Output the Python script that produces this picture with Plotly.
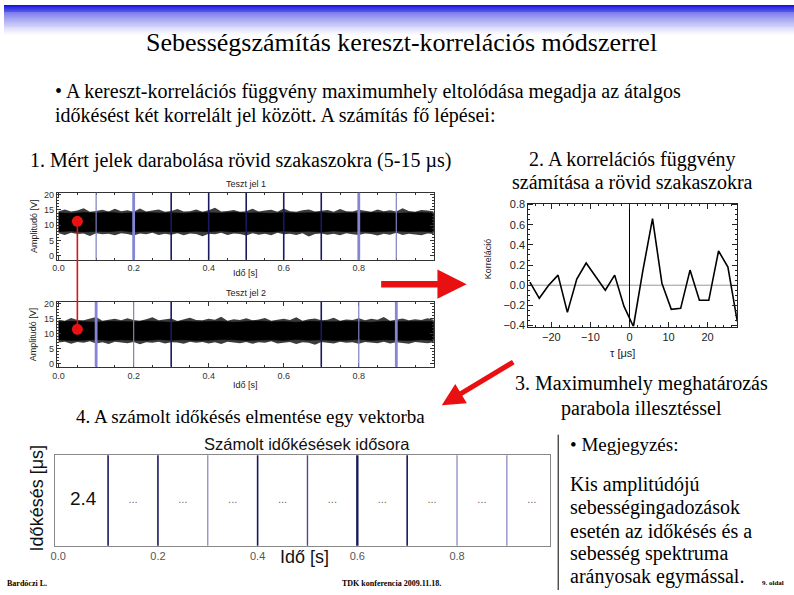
import numpy as np
import plotly.graph_objects as go

W, H = 794, 595
def px(x): return x / W
def py(y): return 1 - y / H

# ---------------- data ----------------
# Test signal envelopes (sampled across 0..1 s): spike envelope and dense core
sig1_outer_up = [14.6,15.2,14.5,14.8,15.6,14.4,14.7,15.1,14.5,15.4,14.6,14.9,14.4,15.5,14.5,14.8,15.2,14.4,14.7,15.3,14.5,14.6,15.2,14.4,14.9,15.7,14.5,14.7,15.0,14.4,14.6,15.4,14.5,14.8,15.1,14.4,15.5,14.6,14.4,14.9,15.2,14.5,14.7,15.0,14.4,15.3,14.6,14.5,15.1,14.8,14.4,15.2,14.6,14.9,14.5,15.6,14.7,14.4,15.0,14.8,14.5]
sig1_outer_lo = [7.4,6.8,7.5,7.1,7.3,6.5,7.4,7.0,7.2,6.7,7.4,7.1,6.6,7.3,7.0,7.5,6.8,7.2,6.9,7.4,6.7,7.3,7.1,6.4,7.2,7.0,7.5,6.8,7.3,7.1,6.6,7.4,6.9,7.2,6.7,7.5,7.0,7.2,6.8,7.4,6.3,7.1,7.3,6.9,7.2,6.7,7.4,7.0,6.8,7.3,7.1,6.6,7.2,6.9,7.5,6.8,7.2,7.0,6.7,7.3,7.1]
sig1_core_up = [14.1,13.9,14.2,14.0,14.3,13.9,14.1,14.2,14.0,14.1,13.9,14.2,14.1,14.0,14.3,14.0,14.1,13.9,14.2,14.0,14.1,14.2,13.9,14.1,14.0,14.2,14.1,13.9,14.1,14.2,14.0]
sig1_core_lo = [7.9,8.1,7.8,8.0,7.9,8.2,7.8,8.0,8.1,7.9,7.8,8.0,7.9,8.1,7.8,8.0,7.9,7.8,8.1,7.9,8.0,7.8,8.1,7.9,8.0,7.8,7.9,8.1,7.9,8.0,7.8]

sig2_outer_up = [14.7,14.4,15.3,14.6,14.5,15.1,15.6,14.4,14.8,15.0,14.5,15.2,14.6,14.4,14.9,15.5,14.5,14.7,15.1,14.3,14.8,15.4,14.6,14.5,15.0,14.7,15.7,14.4,14.9,14.6,15.2,14.5,14.8,15.3,14.4,14.7,15.0,14.6,15.5,14.4,14.9,15.1,14.5,14.7,15.4,14.4,14.8,14.6,15.2,14.5,15.0,14.7,15.6,14.4,14.8,15.1,14.5,14.9,14.6,15.2,14.7]
sig2_outer_lo = [7.1,7.4,6.7,7.3,7.0,7.5,6.8,7.2,6.6,7.4,7.1,6.9,7.3,6.5,7.2,7.0,7.4,6.8,7.2,7.1,6.7,7.4,7.0,7.3,6.8,7.2,6.6,7.4,7.1,6.9,7.3,6.7,7.2,7.0,7.5,6.8,7.1,7.3,6.6,7.2,7.0,6.4,7.3,7.1,6.8,7.4,7.0,7.2,6.7,7.3,7.1,6.9,7.4,6.8,7.2,7.0,6.7,7.3,7.1,6.9,7.2]
sig2_core_up = [14.0,14.2,14.1,13.9,14.2,14.1,14.0,14.3,14.1,13.9,14.2,14.0,14.1,14.2,13.9,14.1,14.3,14.0,14.1,13.9,14.2,14.1,14.0,14.2,14.1,13.9,14.2,14.0,14.1,14.2,14.1]
sig2_core_lo = [8.0,7.8,7.9,8.1,7.8,8.0,7.9,7.8,8.1,7.9,8.0,7.8,7.9,8.1,8.0,7.8,7.9,8.0,7.8,8.1,7.9,8.0,7.8,7.9,8.1,7.8,8.0,7.9,7.8,8.0,7.9]

# Sample markers (same instant in both signals)
marker_t = [0.05]
marker_amp1 = [11.3]
marker_amp2 = [11.5]

# Segment boundaries drawn on the signals [s]
seg1_t = [0.1, 0.2, 0.3, 0.4, 0.5, 0.6, 0.7, 0.8, 0.9]
seg1_style = ['lt', 'lT', 'd', 'd', 'd', 'd', 'd', 'lT', 'lt']
seg2_t = [0.1, 0.2, 0.3, 0.7, 0.8, 0.9]
seg2_style = ['lT', 'lt', 'd', 'd', 'lt', 'lT']
seg4_t = [0.1, 0.2, 0.3, 0.4, 0.5, 0.6, 0.7, 0.8, 0.9]
seg4_style = ['d', 'd', 'lt', 'd', 'm', 'D', 'd', 'lt', 'lt']

# Cross-correlation function
tau_us = [-25.5, -23.1, -20.7, -18.3, -15.9, -13.5, -11.1, -8.6, -6.2, -3.8, -1.4, 1.0,
          3.4, 5.9, 8.3, 10.7, 13.1, 15.5, 17.9, 20.3, 22.8, 25.2, 27.6]
corr = [0.03, -0.13, 0.00, 0.10, -0.27, 0.06, 0.22, 0.08, -0.05, 0.10, -0.21, -0.41,
        0.14, 0.66, 0.02, -0.24, -0.23, 0.15, -0.15, -0.15, 0.34, 0.18, -0.36]

# Computed time delays per segment
cell_t = [0.05, 0.15, 0.25, 0.35, 0.45, 0.55, 0.65, 0.75, 0.85, 0.95]
cell_text = ['2.4', '...', '...', '...', '...', '...', '...', '...', '...', '...']

x_ticks = [0.0, 0.2, 0.4, 0.6, 0.8]
x_ticktext = ['0.0', '0.2', '0.4', '0.6', '0.8']

# ---------------- figure ----------------
fig = go.Figure()
SANS = 'Liberation Sans, Arial, sans-serif'
SERIF = 'Liberation Serif, Times New Roman, serif'

t61 = np.linspace(0, 1, len(sig1_outer_up))
t31 = np.linspace(0, 1, len(sig1_core_up))

def band(t, up, lo, color, xa, ya, lw):
    fig.add_trace(go.Scatter(x=list(t) + list(t[::-1]), y=list(up) + list(lo[::-1]),
                             fill='toself', fillcolor=color, mode='lines',
                             line=dict(color=color, width=lw),
                             xaxis=xa, yaxis=ya, hoverinfo='skip', showlegend=False))

band(t61, sig1_outer_up, sig1_outer_lo, '#3c3c3c', 'x', 'y', 0)
band(t31, sig1_core_up, sig1_core_lo, '#000000', 'x', 'y', 0.5)
band(t61, sig2_outer_up, sig2_outer_lo, '#3c3c3c', 'x2', 'y2', 0)
band(t31, sig2_core_up, sig2_core_lo, '#000000', 'x2', 'y2', 0.5)

fig.add_trace(go.Scatter(x=marker_t, y=marker_amp1, mode='markers',
                         marker=dict(color='#ee1111', size=11), xaxis='x', yaxis='y', showlegend=False))
fig.add_trace(go.Scatter(x=marker_t, y=marker_amp2, mode='markers',
                         marker=dict(color='#ee1111', size=11), xaxis='x2', yaxis='y2', showlegend=False))

fig.add_trace(go.Scatter(x=tau_us, y=corr, mode='lines', line=dict(color='black', width=1.6),
                         xaxis='x3', yaxis='y3', showlegend=False, cliponaxis=True))

fig.add_trace(go.Scatter(x=cell_t[:1], y=[0.5], mode='text', text=cell_text[:1],
                         textfont=dict(family=SANS, size=19, color='#111'),
                         xaxis='x4', yaxis='y4', showlegend=False))
fig.add_trace(go.Scatter(x=cell_t[1:], y=[0.5] * 9, mode='text', text=cell_text[1:],
                         textfont=dict(family=SANS, size=11, color='#666'),
                         xaxis='x4', yaxis='y4', showlegend=False))

shapes = []
# top blue gradient
for i in range(30):
    f = i / 30
    r = int(20 + 235 * f ** 0.8)
    g = int(20 + 235 * f ** 0.8)
    b = int(225 + 30 * f)
    shapes.append(dict(type='rect', xref='paper', yref='paper', x0=0, x1=1,
                       y0=py(i + 1), y1=py(i), fillcolor=f'rgb({r},{g},{min(b,255)})',
                       line=dict(width=0), layer='below'))

style_map = {'d': ('#191960', 1.6), 'D': ('#191960', 2.4), 'lt': ('#8080c0', 1.2),
             'lT': ('#8585d5', 2.8), 'm': ('#4a4a9a', 1.4)}
def seglines(ts, styles, xa, ya):
    for t, s in zip(ts, styles):
        c, w = style_map[s]
        shapes.append(dict(type='line', xref=xa, yref=f'{ya} domain', x0=t, x1=t, y0=0, y1=1,
                           line=dict(color=c, width=w)))
seglines(seg1_t, seg1_style, 'x', 'y')
seglines(seg2_t, seg2_style, 'x2', 'y2')
seglines(seg4_t, seg4_style, 'x4', 'y4')

# red connector between markers
shapes.append(dict(type='line', xref='x', yref='paper', x0=marker_t[0], x1=marker_t[0],
                   y0=py(220), y1=py(331), line=dict(color='#d01818', width=1.6)))
# correlation reference lines
shapes.append(dict(type='line', xref='x3 domain', yref='y3', x0=0, x1=1, y0=0, y1=0,
                   line=dict(color='#999', width=1), layer='below'))
shapes.append(dict(type='line', xref='x3', yref='y3 domain', x0=0, x1=0, y0=0, y1=1,
                   line=dict(color='black', width=1), layer='below'))
# separator line
shapes.append(dict(type='line', xref='paper', yref='paper', x0=px(557), x1=px(557),
                   y0=py(437), y1=0, line=dict(color='black', width=1)))

ann = []
def txt(x, y, s, size, family=SERIF, color='black', xanchor='center', angle=0):
    ann.append(dict(x=px(x), y=py(y), xref='paper', yref='paper', text=s, showarrow=False,
                    font=dict(family=family, size=size, color=color), xanchor=xanchor,
                    yanchor='middle', textangle=angle))

txt(400, 38, 'Sebességszámítás kereszt-korrelációs módszerrel', 26)
txt(49, 88, '• A kereszt-korrelációs függvény maximumhely eltolódása megadja az átalgos', 20, xanchor='left')
txt(49, 112, 'időkésést két korrelált jel között. A számítás fő lépései:', 20, xanchor='left')
txt(238, 158, '1. Mért jelek darabolása rövid szakaszokra (5-15 µs)', 20)
txt(632, 157, '2. A korrelációs függvény', 20)
txt(632, 180, 'számítása a rövid szakaszokra', 20)
txt(641, 385, '3. Maximumhely meghatározás', 20)
txt(641, 410, 'parabola illesztéssel', 20)
txt(248, 419, '4. A számolt időkésés elmentése egy vektorba', 19)
txt(567, 447, '• Megjegyzés:', 19, xanchor='left')
for i, s in enumerate(['Kis amplitúdójú', 'sebességingadozások', 'esetén az időkésés és a',
                       'sebesség spektruma', 'arányosak egymással.']):
    txt(567, 488 + 23.3 * i, s, 20, xanchor='left')
txt(1, 588, '<b>Bardóczi L.</b>', 8, xanchor='left')
txt(338, 588, '<b>TDK konferencia 2009.11.18.</b>', 8, xanchor='left')
txt(760, 588, '<b>9. oldal</b>', 7, xanchor='left')

# chart labels
txt(243, 182, 'Teszt jel 1', 9, SANS, '#222')
txt(243, 293, 'Teszt jel 2', 9, SANS, '#222')
txt(243, 273, 'Idő [s]', 9, SANS, '#222')
txt(243, 386, 'Idő [s]', 9, SANS, '#222')
txt(30, 225, 'Amplitudó [V]', 9, SANS, '#222', angle=-90)
txt(30, 335, 'Amplitudó [V]', 9, SANS, '#222', angle=-90)
txt(486, 258, 'Korreláció', 9, SANS, '#222', angle=-90)
txt(622, 354, 'τ [μs]', 11, SANS, '#222')
txt(305, 447, 'Számolt időkésések idősora', 16.5, SANS, '#111')
txt(33, 502, 'Időkésés [μs]', 18, SANS, '#111', angle=-90)
txt(302, 561, 'Idő [s]', 18, SANS, '#111')

# arrows (tail offsets in pixels)
ann.append(dict(x=px(465), y=py(284), ax=-87, ay=0, xref='paper', yref='paper',
                axref='pixel', ayref='pixel', showarrow=True, arrowhead=2, arrowsize=0.9,
                arrowwidth=6.5, arrowcolor='#e81010', text=''))
ann.append(dict(x=px(440), y=py(407), ax=73, ay=-44, xref='paper', yref='paper',
                axref='pixel', ayref='pixel', showarrow=True, arrowhead=2, arrowsize=0.9,
                arrowwidth=5, arrowcolor='#e81010', text=''))

tf_small = dict(family=SANS, size=9, color='#333')
common_sig_x = dict(range=[-0.005, 1.0], tickvals=x_ticks, ticktext=x_ticktext, ticks='inside',
                    ticklen=4, tickcolor='#333', showline=True, linecolor='#333', linewidth=1,
                    mirror='ticks', showgrid=False, zeroline=False, tickfont=tf_small,
                    minor=dict(ticks='inside', dtick=0.05, ticklen=2, tickcolor='#333'))
common_sig_y = dict(tickvals=[0, 5, 10, 15, 20], ticks='inside', ticklen=4, tickcolor='#333',
                    showline=True, linecolor='#333', linewidth=1, mirror='ticks', showgrid=False,
                    zeroline=False, tickfont=tf_small,
                    minor=dict(ticks='inside', dtick=1, ticklen=2, tickcolor='#333'))

fig.update_layout(
    width=W, height=H, margin=dict(l=0, r=0, t=0, b=0),
    paper_bgcolor='white', plot_bgcolor='white', showlegend=False,
    xaxis=dict(domain=[px(53), px(432)], anchor='y', **common_sig_x),
    yaxis=dict(domain=[py(259), py(191)], anchor='x', range=[-1.3, 20.65], **common_sig_y),
    xaxis2=dict(domain=[px(53), px(432)], anchor='y2', **common_sig_x),
    yaxis2=dict(domain=[py(368), py(302)], anchor='x2', range=[-1.0, 20.65], **common_sig_y),
    xaxis3=dict(domain=[px(527), px(737)], anchor='y3', range=[-25.9, 27.6],
                tickvals=[-20, -10, 0, 10, 20], ticks='inside', ticklen=5, tickcolor='#222',
                showline=True, linecolor='#222', linewidth=1, mirror='ticks', showgrid=False,
                zeroline=False, tickfont=dict(family=SANS, size=11, color='#222'),
                minor=dict(ticks='inside', dtick=2, ticklen=2, tickcolor='#222')),
    yaxis3=dict(domain=[py(327), py(202)], anchor='x3', range=[-0.41, 0.81],
                tickvals=[-0.4, -0.2, 0.0, 0.2, 0.4, 0.6, 0.8], tickformat='.1f', ticks='inside',
                ticklen=5, tickcolor='#222', showline=True, linecolor='#222', linewidth=1,
                mirror='ticks', showgrid=False, zeroline=False,
                tickfont=dict(family=SANS, size=11, color='#222'),
                minor=dict(ticks='inside', dtick=0.05, ticklen=2, tickcolor='#222')),
    xaxis4=dict(domain=[px(51), px(549)], anchor='y4', range=[-0.007, 0.987],
                tickvals=x_ticks, ticktext=x_ticktext, ticks='', showline=True,
                linecolor='#888', linewidth=1, mirror=True, showgrid=False, zeroline=False,
                tickfont=dict(family=SANS, size=11, color='#555')),
    yaxis4=dict(domain=[py(550), py(458)], anchor='x4', range=[0, 1], showticklabels=False,
                ticks='', showline=True, linecolor='#888', linewidth=1, mirror=True,
                showgrid=False, zeroline=False),
    shapes=shapes, annotations=ann,
)

fig.write_html('out.html')
